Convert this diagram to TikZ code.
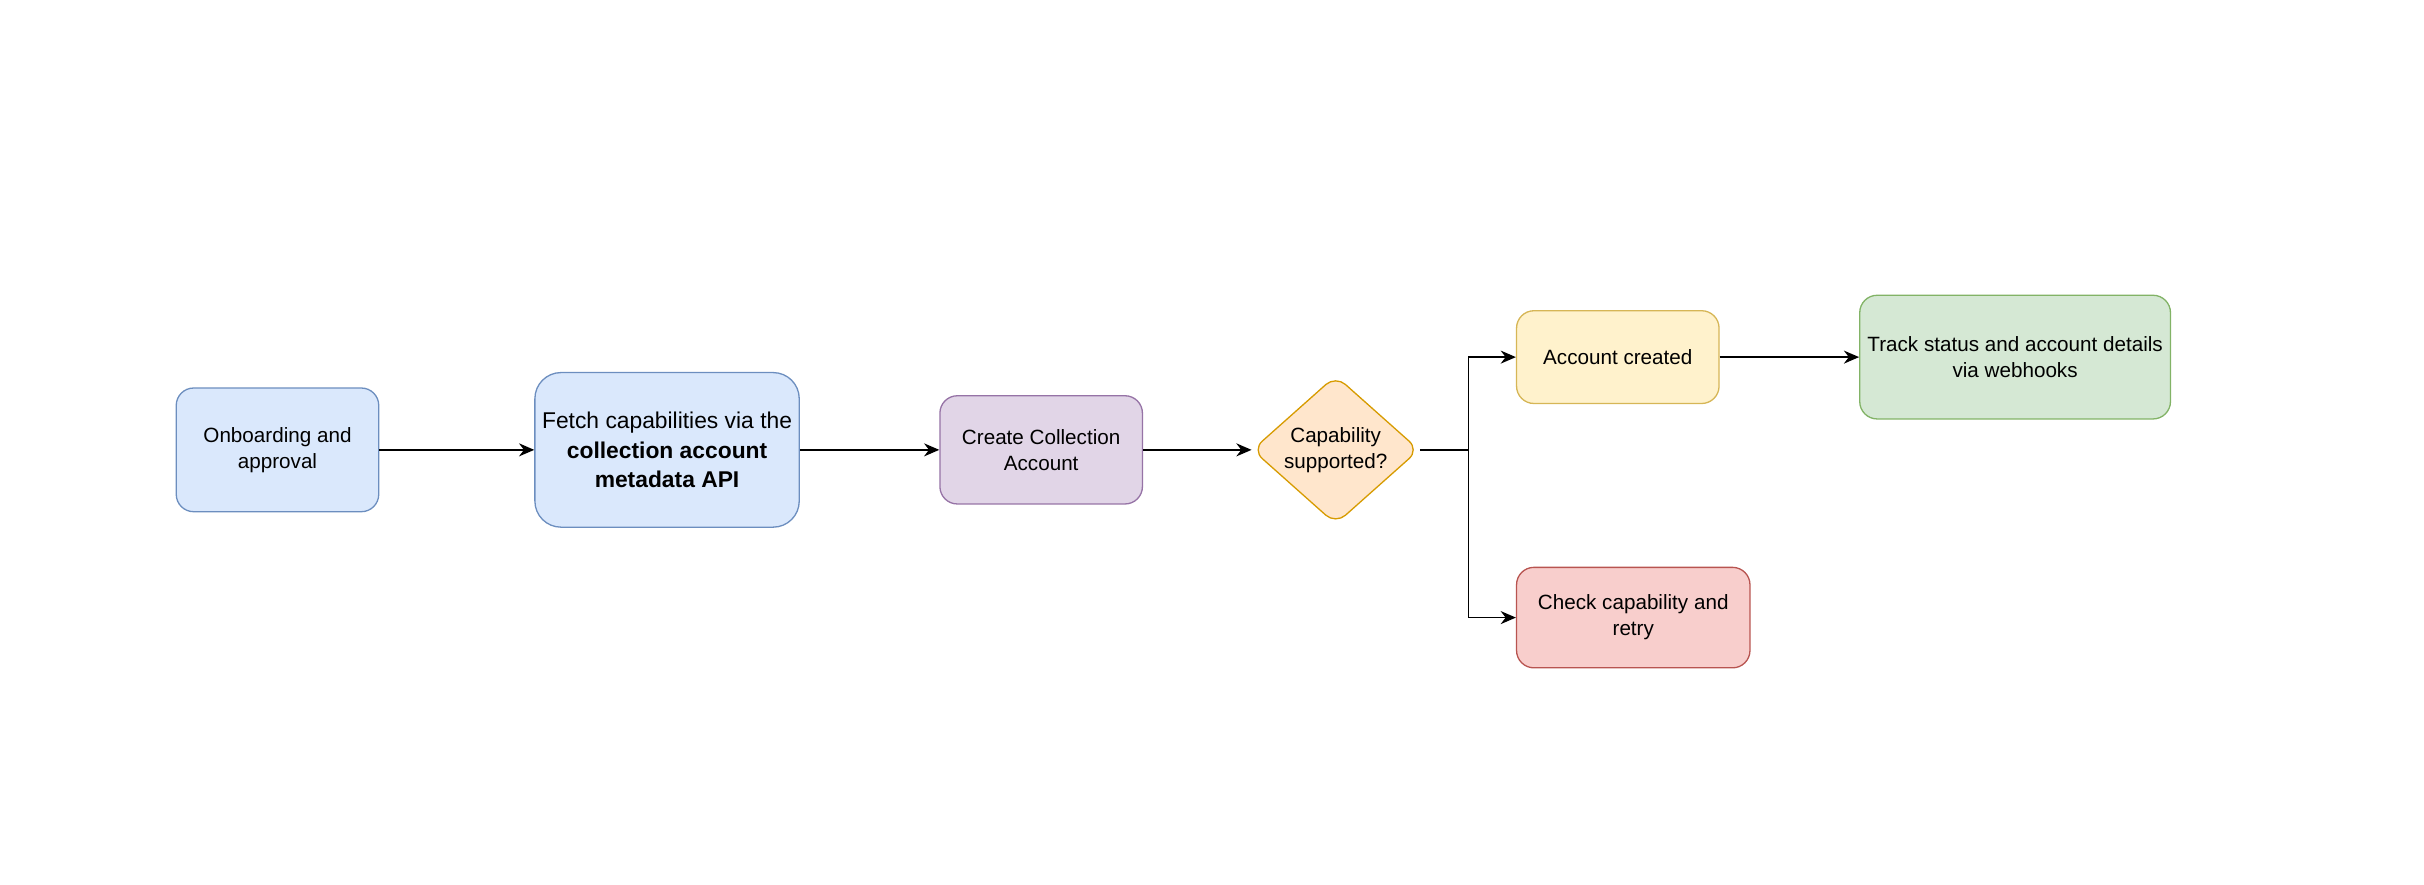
\documentclass[tikz,border=0pt]{standalone}
\usepackage{fontspec}
\setmainfont{Liberation Sans}
\usetikzlibrary{shapes.geometric,arrows.meta}
\definecolor{bF}{HTML}{DAE8FC}\definecolor{bS}{HTML}{6C8EBF}
\definecolor{pF}{HTML}{E1D5E7}\definecolor{pS}{HTML}{9673A6}
\definecolor{oF}{HTML}{FFE6CC}\definecolor{oS}{HTML}{D79B00}
\definecolor{yF}{HTML}{FFF2CC}\definecolor{yS}{HTML}{D6B656}
\definecolor{gF}{HTML}{D5E8D4}\definecolor{gS}{HTML}{82B366}
\definecolor{rF}{HTML}{F8CECC}\definecolor{rS}{HTML}{B85450}
\begin{document}
\begin{tikzpicture}[x=0.025cm,y=-0.025cm,
  box/.style={rectangle,rounded corners=8pt,draw,line width=0.6pt,align=center,inner sep=0pt,font=\fontsize{9.5}{12}\selectfont},
  arr/.style={-{Stealth[length=7pt,width=6pt]},line width=0.7pt}]
\useasboundingbox (0,0) rectangle (1568,572);
\node[box,fill=bF,draw=bS,minimum width=131*0.025cm,minimum height=80*0.025cm] (a) at (179.5,291) {Onboarding and\\approval};
\node[box,fill=bF,draw=bS,minimum width=171*0.025cm,minimum height=100*0.025cm,rounded corners=12pt,font=\fontsize{10.5}{13.5}\selectfont] (b) at (431.5,291) {Fetch capabilities via the\\\textbf{collection account}\\\textbf{metadata API}};
\node[box,fill=pF,draw=pS,minimum width=131*0.025cm,minimum height=70*0.025cm] (c) at (673.5,291) {Create Collection\\Account};
\node[diamond,draw=oS,fill=oF,line width=0.6pt,rounded corners=6pt,minimum width=108*0.025cm,minimum height=96*0.025cm,inner sep=0pt,align=center,font=\fontsize{9.5}{12}\selectfont] (d) at (864,291) {Capability\\supported?};
\node[box,fill=yF,draw=yS,minimum width=131*0.025cm,minimum height=60*0.025cm] (e) at (1046.5,231) {Account created};
\node[box,fill=gF,draw=gS,minimum width=201*0.025cm,minimum height=80*0.025cm] (f) at (1303.5,231) {Track status and account details\\via webhooks};
\node[box,fill=rF,draw=rS,minimum width=151*0.025cm,minimum height=65*0.025cm] (g) at (1056.5,399.5) {Check capability and\\retry};
\coordinate (j) at (950,291);
\draw[arr] (a) -- (b);
\draw[arr] (b) -- (c);
\draw[arr] (c) -- (d);
\draw[arr] (d.east) -- (j) |- (e.west);
\draw[arr] (j) |- (g.west);
\draw[arr] (e) -- (f);
\end{tikzpicture}
\end{document}
